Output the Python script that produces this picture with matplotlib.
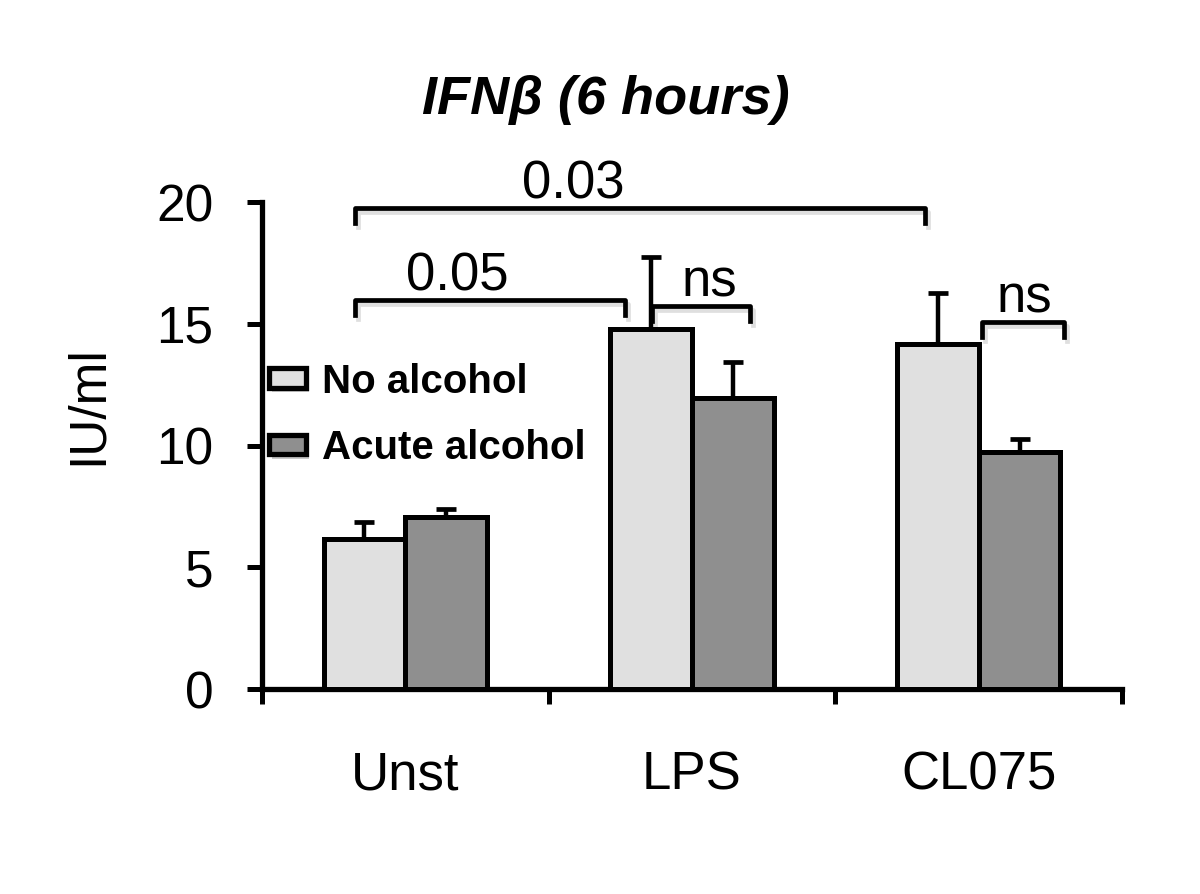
import numpy as np
import matplotlib
matplotlib.use("Agg")
import matplotlib.pyplot as plt
import matplotlib.patheffects as pe

plt.rcParams['font.family'] = ['Liberation Sans', 'DejaVu Sans']

# Data
categories = ['Unst', 'LPS', 'CL075']
series = ['No alcohol', 'Acute alcohol']
no_alcohol = [6.15, 14.8, 14.15]
no_alcohol_err = [0.7, 2.95, 2.1]
acute_alcohol = [7.05, 11.95, 9.75]
acute_alcohol_err = [0.35, 1.5, 0.5]
colors = ['#e0e0e0', '#8f8f8f']

# significance brackets: (x_left, x_right, y, label, label_x)
brackets = [(-0.176, 1.813, 19.75, '0.03', 0.585),
            (-0.176, 0.766, 15.98, '0.05', 0.183),
            (0.860, 1.202, 15.73, 'ns', 1.06),
            (2.011, 2.297, 15.07, 'ns', 2.16)]

fig = plt.figure(figsize=(12, 8.94), dpi=100)
ax = fig.add_axes([0.2183, 0.2293, 0.7167, 0.5447])

x = np.arange(len(categories))
w = 0.285
lw = 3.6
ax.bar(x - w/2, no_alcohol, w, color=colors[0], edgecolor='black', linewidth=lw, label=series[0], zorder=3)
ax.bar(x + w/2, acute_alcohol, w, color=colors[1], edgecolor='black', linewidth=lw, label=series[1], zorder=3)
ax.errorbar(x - w/2, no_alcohol, yerr=[np.zeros(3), no_alcohol_err], fmt='none', ecolor='black',
            elinewidth=3.2, capsize=7.5, capthick=3.4, zorder=2)
ax.errorbar(x + w/2, acute_alcohol, yerr=[np.zeros(3), acute_alcohol_err], fmt='none', ecolor='black',
            elinewidth=3.2, capsize=7.5, capthick=3.4, zorder=2)

# brackets
shadow = [pe.SimpleLineShadow(offset=(2, -3), shadow_color='gray', alpha=0.25), pe.Normal()]
for x0, x1, y, lab, lx in brackets:
    ax.plot([x0, x0, x1, x1], [y - 0.6, y, y, y - 0.6], color='black', lw=3.4,
            clip_on=False, solid_joinstyle='round', path_effects=shadow)
    ax.text(lx, y + 0.4, lab, ha='center', va='baseline', fontsize=38, clip_on=False)

ax.set_xlim(-0.5, 2.5)
ax.set_ylim(0, 20)
ax.set_yticks([0, 5, 10, 15, 20])
ax.set_xticks(x)
ax.set_xticklabels(categories)
ax.set_xticks([-0.5, 0.5, 1.5, 2.5], minor=True)
ax.tick_params(axis='x', which='major', length=0, pad=44, labelsize=38)
ax.tick_params(axis='x', which='minor', length=11, width=3.6, direction='out')
ax.tick_params(axis='y', which='major', length=11, width=3.6, direction='out', pad=24, labelsize=37)

for s in ['top', 'right']:
    ax.spines[s].set_visible(False)
for s in ['left', 'bottom']:
    ax.spines[s].set_linewidth(3.8)
ax.spines['left'].set_bounds(0, 20)

ax.set_ylabel('IU/ml', fontsize=37)
ax.yaxis.set_label_coords(-0.174, 0.583)
fig.text(0.505, 1 - 100 / 894, 'IFN\u03b2 (6 hours)', fontsize=39, fontweight='bold', style='italic',
         ha='center', va='center')

leg = ax.legend(loc='upper left', bbox_to_anchor=(0.008, 0.67), frameon=False,
                prop={'weight': 'bold', 'size': 29}, handlelength=0.92, handleheight=0.38,
                handletextpad=0.4, labelspacing=0.7, borderpad=0, borderaxespad=0)
for h in leg.legend_handles:
    h.set_linewidth(3.8)
    h.set_path_effects([pe.SimplePatchShadow(offset=(2, -3), alpha=0.25), pe.Normal()])

fig.savefig('out.png', dpi=100)
